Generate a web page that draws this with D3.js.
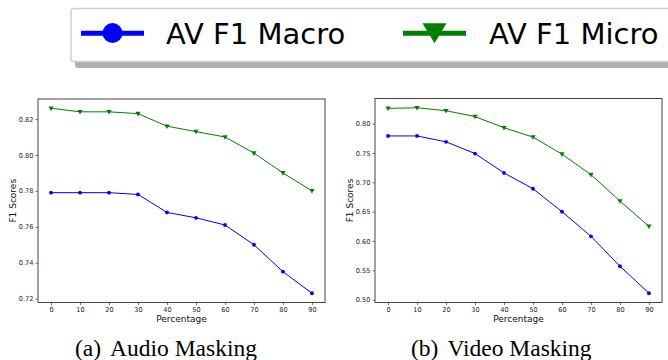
<!DOCTYPE html>
<html lang="en">
<head>
<meta charset="UTF-8">
<title>AV masking</title>
<style>
  body { margin: 0; background: #fff; }
  svg { display: block; }
</style>
</head>
<body>
<svg id="chart" width="668" height="360"></svg>
<script src="https://d3js.org/d3.v7.min.js"></script>
<script>
const percentages = [0, 10, 20, 30, 40, 50, 60, 70, 80, 90];

const audioMacro = [0.779, 0.779, 0.779, 0.778, 0.768, 0.765, 0.761, 0.750, 0.735, 0.723];
const audioMicro = [0.826, 0.824, 0.824, 0.823, 0.816, 0.813, 0.810, 0.801, 0.790, 0.780];

const videoMacro = [0.779, 0.779, 0.769, 0.749, 0.716, 0.689, 0.650, 0.608, 0.557, 0.511];
const videoMicro = [0.826, 0.827, 0.822, 0.812, 0.793, 0.777, 0.748, 0.713, 0.668, 0.625];

const audioTicks = [0.72, 0.74, 0.76, 0.78, 0.80, 0.82];
const videoTicks = [0.50, 0.55, 0.60, 0.65, 0.70, 0.75, 0.80];

const seriesNames = ["AV F1 Macro", "AV F1 Micro"];
const captions = [["(a)", "Audio Masking"], ["(b)", "Video Masking"]];

const svg = d3.select("#chart");
const macroColor = "#0000ff", microColor = "#008000";

function panel(box, macro, micro, yTicks, caption) {
  const all = macro.concat(micro);
  const lo = d3.min(all), hi = d3.max(all), pad = (hi - lo) * 0.05;
  const x = d3.scaleLinear().domain([-4.5, 94.5]).range([box.x0, box.x1]);
  const y = d3.scaleLinear().domain([lo - pad, hi + pad]).range([box.y1, box.y0]);
  const g = svg.append("g");

  const xAxis = g.append("g").attr("transform", `translate(0,${box.y1})`)
    .call(d3.axisBottom(x).tickValues(percentages).tickSize(2.5).tickPadding(2));
  const yAxis = g.append("g").attr("transform", `translate(${box.x0},0)`)
    .call(d3.axisLeft(y).tickValues(yTicks).tickSize(2.5).tickPadding(2)
      .tickFormat(d3.format(".2f")));
  [xAxis, yAxis].forEach(a => {
    a.select(".domain").remove();
    a.selectAll("text").attr("font-family", "DejaVu Sans").attr("font-size", 6.6).attr("fill", "#222");
    a.selectAll("line").attr("stroke", "#333").attr("stroke-width", 0.7);
  });

  g.append("rect").attr("x", box.x0).attr("y", box.y0)
    .attr("width", box.x1 - box.x0).attr("height", box.y1 - box.y0)
    .attr("fill", "none").attr("stroke", "#444").attr("stroke-width", 1);

  const line = d3.line().x((d, i) => x(percentages[i])).y(d => y(d));
  g.append("path").datum(macro).attr("d", line).attr("fill", "none")
    .attr("stroke", macroColor).attr("stroke-width", 1);
  g.append("path").datum(micro).attr("d", line).attr("fill", "none")
    .attr("stroke", microColor).attr("stroke-width", 1);

  g.selectAll(".dot").data(macro).enter().append("circle")
    .attr("cx", (d, i) => x(percentages[i])).attr("cy", d => y(d))
    .attr("r", 1.9).attr("fill", macroColor);
  const tri = d3.symbol().type(d3.symbolTriangle).size(12);
  g.selectAll(".tri").data(micro).enter().append("path")
    .attr("d", tri)
    .attr("transform", (d, i) => `translate(${x(percentages[i])},${y(d) - 0.3}) rotate(180)`)
    .attr("fill", microColor);

  g.append("text").attr("x", (box.x0 + box.x1) / 2).attr("y", box.y1 + 19)
    .attr("text-anchor", "middle").attr("font-family", "DejaVu Sans")
    .attr("font-size", 9).attr("fill", "#111").text("Percentage");
  g.append("text")
    .attr("transform", `translate(${box.labelX},${(box.y0 + box.y1) / 2}) rotate(-90)`)
    .attr("text-anchor", "middle").attr("font-family", "DejaVu Sans")
    .attr("font-size", 9).attr("fill", "#111").text("F1 Scores");

  const cap = svg.append("text").attr("x", box.capX).attr("y", 356)
    .attr("font-family", "Liberation Serif")
    .attr("font-size", 23.5).attr("fill", "#000");
  cap.append("tspan").text(caption[0]);
  cap.append("tspan").attr("dx", 9).text(caption[1]);
}

panel({ x0: 38, x1: 325, y0: 99, y1: 302.5, labelX: 16, capX: 75 },
  audioMacro, audioMicro, audioTicks, captions[0]);
panel({ x0: 375, x1: 662, y0: 98.5, y1: 302.5, labelX: 353, capX: 411 },
  videoMacro, videoMicro, videoTicks, captions[1]);

// legend
const leg = svg.append("g");
leg.append("rect").attr("x", 75).attr("y", 14).attr("width", 620).attr("height", 54)
  .attr("rx", 3).attr("fill", "#b0b0b0");
leg.append("rect").attr("x", 71).attr("y", 8.5).attr("width", 620).attr("height", 53)
  .attr("rx", 3).attr("fill", "#fff").attr("stroke", "#d0d0d0").attr("stroke-width", 1.5);

const legItems = [
  { name: seriesNames[0], color: macroColor, x: 81, marker: "circle", tx: 166 },
  { name: seriesNames[1], color: microColor, x: 403, marker: "tri", tx: 489 }
];
legItems.forEach(it => {
  leg.append("line").attr("x1", it.x).attr("x2", it.x + 63).attr("y1", 33.3).attr("y2", 33.3)
    .attr("stroke", it.color).attr("stroke-width", 5);
  if (it.marker === "circle") {
    leg.append("circle").attr("cx", it.x + 31.5).attr("cy", 33)
      .attr("r", 10).attr("fill", it.color);
  } else {
    leg.append("path").attr("d", "M-12,-10 L12,-10 L0,10 Z")
      .attr("transform", `translate(${it.x + 31.5},33.3)`).attr("fill", it.color);
  }
  leg.append("text").attr("x", it.tx).attr("y", 44).attr("font-family", "DejaVu Sans")
    .attr("font-size", 29).attr("fill", "#000").text(it.name);
});
</script>
</body>
</html>
